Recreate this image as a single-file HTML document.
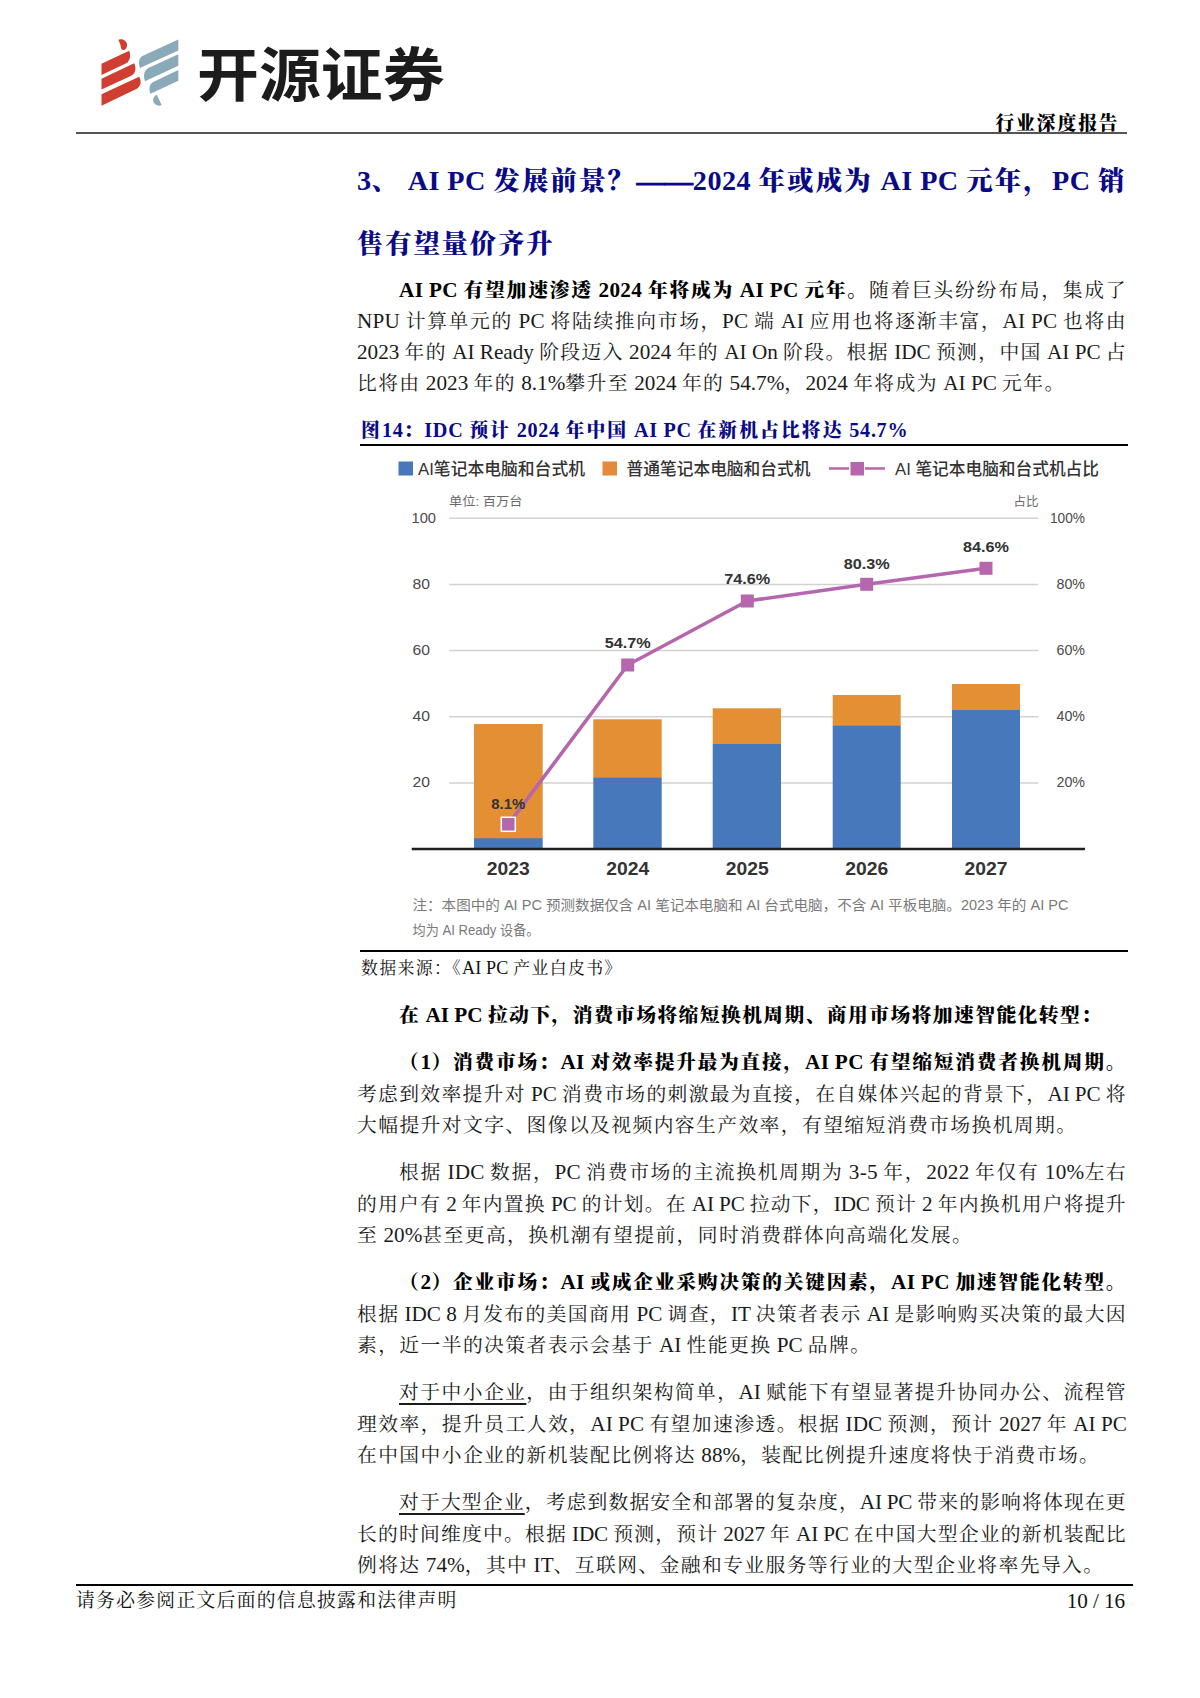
<!DOCTYPE html>
<html lang="zh-CN">
<head>
<meta charset="utf-8">
<title>开源证券 行业深度报告</title>
<style>
html,body{margin:0;padding:0;background:#fff;}
body{width:1200px;height:1698px;position:relative;overflow:hidden;font-family:"Liberation Serif","Noto Serif CJK SC",serif;color:#111;}
.abs{position:absolute;white-space:nowrap;}
.ln{position:absolute;left:357px;width:770px;height:30px;line-height:30px;font-size:19.8px;white-space:nowrap;color:#1a1a1a;}
.ln.i{left:399px;width:728px;}
.ln b{font-weight:900;color:#000;}
.ln{letter-spacing:calc(1.4px + var(--r,0px));}
.ln .l{font-size:21.2px;line-height:0;letter-spacing:var(--r,0px);}
.ttl{letter-spacing:calc(1.8px + var(--r,0px));}
.ttl .d{letter-spacing:0;font-size:28.2px;line-height:0;-webkit-text-stroke:0.8px #0a0a86;}
.ttl .l{font-size:28.2px;line-height:0;letter-spacing:var(--r,0px);}
.ln u{text-decoration:underline;text-underline-offset:4px;text-decoration-thickness:1.5px;}
.ttl{position:absolute;left:357px;width:770px;height:40px;line-height:40px;font-size:26.4px;font-weight:900;color:#0a0a86;white-space:nowrap;}
.hr{position:absolute;background:#000;}
.cap{height:26px;line-height:26px;font-size:18.8px;font-weight:900;letter-spacing:2.09px;color:#0a0a86;}
.cap .l{font-size:20.2px;line-height:0;letter-spacing:0.69px;}
.src{height:24px;line-height:24px;font-size:16.9px;letter-spacing:1.35px;color:#111;}
.src .l{font-size:18.1px;line-height:0;letter-spacing:0.15px;}
.ftl{height:24px;line-height:24px;font-size:18.8px;letter-spacing:1.3px;color:#111;}
svg text{font-family:"Liberation Sans","Noto Sans CJK SC",sans-serif;}
.logo{height:88px;line-height:88px;font-size:60.5px;font-weight:700;font-family:"Liberation Sans","Noto Sans CJK SC",sans-serif;color:#1c1c1c;}
</style>
</head>
<body>
<!-- header -->
<svg class="abs" style="left:95px;top:30px" width="100" height="85" viewBox="0 0 1200 1020">
<g fill="#cf3e31">
<path d="M280,118 C310,100 385,120 385,180 C385,215 365,240 340,240 C320,240 315,225 310,200 C305,170 290,145 280,118 Z"/>
<path d="M78,405 L410,250 C430,300 425,370 375,400 L78,540 Z"/>
<path d="M78,585 L470,400 C495,450 495,520 435,548 L78,715 Z"/>
<path d="M78,770 L530,560 C560,610 555,680 490,710 L78,910 Z"/>
</g>
<g fill="#8baab9">
<path d="M1000,115 L1000,245 L540,455 C520,400 520,340 575,310 Z"/>
<path d="M1000,290 L1000,430 L600,615 C580,560 580,490 640,455 Z"/>
<path d="M1000,480 L1000,610 L665,765 C645,715 645,650 705,620 Z"/>
<path d="M740,775 C760,820 780,860 800,900 C780,915 745,910 715,885 C690,860 690,810 740,775 Z"/>
</g>
</svg>
<div class="abs logo" style="left:196.7px;top:33.9px;transform-origin:0 0;transform:scale(1.0237,0.951);">开源证券</div>
<div class="abs" style="left:990px;top:110.5px;width:129.5px;height:26px;line-height:26px;font-size:18.8px;font-weight:900;letter-spacing:1.9px;color:#000;text-align:right;">行业深度报告</div>
<div class="hr" style="left:76px;top:132px;width:1051px;height:2px;background:#555;"></div>
<div class="ttl" style="top:160.6px;--r:0.439px"><span><span class="l">3</span>、<span class="l"> AI PC </span>发展前景？<span class="d">——</span><span class="l">2024 </span>年或成为<span class="l"> AI PC </span>元年，<span class="l">PC </span>销</span></div>
<div class="ttl" style="top:223.5px">售有望量价齐升</div>
<div class="ln i" style="top:274.67px;--r:0.358px"><span><b><span class="l">AI PC </span>有望加速渗透<span class="l"> 2024 </span>年将成为<span class="l"> AI PC </span>元年。</b>随着巨头纷纷布局，集成了</span></div>
<div class="ln" style="top:305.87px;--r:0.261px"><span><span class="l">NPU </span>计算单元的<span class="l"> PC </span>将陆续推向市场，<span class="l">PC </span>端<span class="l"> AI </span>应用也将逐渐丰富，<span class="l">AI PC </span>也将由</span></div>
<div class="ln" style="top:337.07px;--r:-0.016px"><span><span class="l">2023 </span>年的<span class="l"> AI Ready </span>阶段迈入<span class="l"> 2024 </span>年的<span class="l"> AI On </span>阶段。根据<span class="l"> IDC </span>预测，中国<span class="l"> AI PC </span>占</span></div>
<div class="ln" style="top:368.27px;--r:0.001px"><span>比将由<span class="l"> 2023 </span>年的<span class="l"> 8.1%</span>攀升至<span class="l"> 2024 </span>年的<span class="l"> 54.7%</span>，<span class="l">2024 </span>年将成为<span class="l"> AI PC </span>元年。</span></div>
<div class="ln i" style="top:999.97px;--r:0.005px"><span><b>在<span class="l"> AI PC </span>拉动下，消费市场将缩短换机周期、商用市场将加速智能化转型：</b></span></div>
<div class="ln i" style="top:1047.17px;--r:0.312px"><span><b>（<span class="l">1</span>）消费市场：<span class="l">AI </span>对效率提升最为直接，<span class="l">AI PC </span>有望缩短消费者换机周期。</b></span></div>
<div class="ln" style="top:1078.57px;--r:-0.078px"><span>考虑到效率提升对<span class="l"> PC </span>消费市场的刺激最为直接，在自媒体兴起的背景下，<span class="l">AI PC </span>将</span></div>
<div class="ln" style="top:1109.97px;--r:0.007px"><span>大幅提升对文字、图像以及视频内容生产效率，有望缩短消费市场换机周期。</span></div>
<div class="ln i" style="top:1157.17px;--r:0.236px"><span>根据<span class="l"> IDC </span>数据，<span class="l">PC </span>消费市场的主流换机周期为<span class="l"> 3-5 </span>年，<span class="l">2022 </span>年仅有<span class="l"> 10%</span>左右</span></div>
<div class="ln" style="top:1188.57px;--r:-0.167px"><span>的用户有<span class="l"> 2 </span>年内置换<span class="l"> PC </span>的计划。在<span class="l"> AI PC </span>拉动下，<span class="l">IDC </span>预计<span class="l"> 2 </span>年内换机用户将提升</span></div>
<div class="ln" style="top:1219.97px;--r:0.005px"><span>至<span class="l"> 20%</span>甚至更高，换机潮有望提前，同时消费群体向高端化发展。</span></div>
<div class="ln i" style="top:1267.17px;--r:0.313px"><span><b>（<span class="l">2</span>）企业市场：<span class="l">AI </span>或成企业采购决策的关键因素，<span class="l">AI PC </span>加速智能化转型。</b></span></div>
<div class="ln" style="top:1298.57px;--r:-0.036px"><span>根据<span class="l"> IDC 8 </span>月发布的美国商用<span class="l"> PC </span>调查，<span class="l">IT </span>决策者表示<span class="l"> AI </span>是影响购买决策的最大因</span></div>
<div class="ln" style="top:1329.97px;--r:0.004px"><span>素，近一半的决策者表示会基于<span class="l"> AI </span>性能更换<span class="l"> PC </span>品牌。</span></div>
<div class="ln i" style="top:1377.17px;--r:0.038px"><span><u>对于中小企业</u>，由于组织架构简单，<span class="l">AI </span>赋能下有望显著提升协同办公、流程管</span></div>
<div class="ln" style="top:1408.57px;--r:0.030px"><span>理效率，提升员工人效，<span class="l">AI PC </span>有望加速渗透。根据<span class="l"> IDC </span>预测，预计<span class="l"> 2027 </span>年<span class="l"> AI PC</span></span></div>
<div class="ln" style="top:1439.97px;--r:0.005px"><span>在中国中小企业的新机装配比例将达<span class="l"> 88%</span>，装配比例提升速度将快于消费市场。</span></div>
<div class="ln i" style="top:1487.17px;--r:-0.235px"><span><u>对于大型企业</u>，考虑到数据安全和部署的复杂度，<span class="l">AI PC </span>带来的影响将体现在更</span></div>
<div class="ln" style="top:1518.57px;--r:-0.185px"><span>长的时间维度中。根据<span class="l"> IDC </span>预测，预计<span class="l"> 2027 </span>年<span class="l"> AI PC </span>在中国大型企业的新机装配比</span></div>
<div class="ln" style="top:1549.97px;--r:0.005px"><span>例将达<span class="l"> 74%</span>，其中<span class="l"> IT</span>、互联网、金融和专业服务等行业的大型企业将率先导入。</span></div>
<div class="abs cap" style="left:361px;top:418px;">图<span class="l">14</span>：<span class="l">IDC </span>预计<span class="l"> 2024 </span>年中国<span class="l"> AI PC </span>在新机占比将达<span class="l"> 54.7%</span></div>
<div class="hr" style="left:360px;top:444.2px;width:768px;height:1.6px;"></div>
<div class="hr" style="left:360px;top:950.2px;width:768px;height:1.6px;"></div>
<div class="abs src" style="left:361px;top:956.5px;">数据来源：《<span class="l">AI PC </span>产业白皮书》</div>
<!-- chart -->
<svg class="abs" style="left:360px;top:447px" width="768" height="503" viewBox="360 447 768 503">
<g font-size="16.700" font-weight="500" fill="#333">
<rect x="398.500" y="461.500" width="14.500" height="14" fill="#4678ba"/>
<text x="418" y="475" textLength="167" lengthAdjust="spacingAndGlyphs">AI笔记本电脑和台式机</text>
<rect x="602.500" y="461.500" width="14.500" height="14" fill="#e38b3a"/>
<text x="626.500" y="475" textLength="184" lengthAdjust="spacingAndGlyphs">普通笔记本电脑和台式机</text>
<line x1="829" y1="468.500" x2="885" y2="468.500" stroke="#b566ad" stroke-width="2.500"/>
<rect x="849" y="460.500" width="16" height="16" fill="#fff"/>
<rect x="850.500" y="462" width="13.500" height="13.500" fill="#b566ad"/>
<text x="895" y="475" textLength="204" lengthAdjust="spacingAndGlyphs">AI 笔记本电脑和台式机占比</text>
</g>
<g font-size="12.500" fill="#6a6a6a">
<text x="449" y="505.500" textLength="73.500" lengthAdjust="spacingAndGlyphs">单位: 百万台</text>
<text x="1038.500" y="505.500" text-anchor="end">占比</text>
</g>
<g stroke="#d2d2d6" stroke-width="1.500">
<line x1="449.300" y1="518.300" x2="1038.300" y2="518.300"/>
<line x1="449.300" y1="584.400" x2="1038.300" y2="584.400"/>
<line x1="449.300" y1="650.600" x2="1038.300" y2="650.600"/>
<line x1="449.300" y1="716.700" x2="1038.300" y2="716.700"/>
<line x1="449.300" y1="782.900" x2="1038.300" y2="782.900"/>
</g>
<g font-size="14.500" fill="#4a4a4a">
<text x="411.500" y="522.500" textLength="24.500" lengthAdjust="spacingAndGlyphs">100</text>
<text x="412.500" y="588.600" textLength="17.500" lengthAdjust="spacingAndGlyphs">80</text>
<text x="412.500" y="654.800" textLength="17.500" lengthAdjust="spacingAndGlyphs">60</text>
<text x="412.500" y="720.900" textLength="17.500" lengthAdjust="spacingAndGlyphs">40</text>
<text x="412.500" y="787.100" textLength="17.500" lengthAdjust="spacingAndGlyphs">20</text>
<text x="1050" y="522.500" textLength="35" lengthAdjust="spacingAndGlyphs">100%</text>
<text x="1056.500" y="588.600" textLength="28.500" lengthAdjust="spacingAndGlyphs">80%</text>
<text x="1056.500" y="654.800" textLength="28.500" lengthAdjust="spacingAndGlyphs">60%</text>
<text x="1056.500" y="720.900" textLength="28.500" lengthAdjust="spacingAndGlyphs">40%</text>
<text x="1056.500" y="787.100" textLength="28.500" lengthAdjust="spacingAndGlyphs">20%</text>
</g>
<g fill="#e39035">
<rect x="474" y="724" width="68.700" height="115"/>
<rect x="593.300" y="719.300" width="68.400" height="59"/>
<rect x="712.700" y="708.300" width="68.300" height="36"/>
<rect x="832.700" y="695" width="68" height="31"/>
<rect x="952" y="684" width="68" height="26.500"/>
</g>
<g fill="#4778bb">
<rect x="474" y="838.300" width="68.700" height="10"/>
<rect x="593.300" y="777.700" width="68.400" height="70.600"/>
<rect x="712.700" y="744" width="68.300" height="104.300"/>
<rect x="832.700" y="725.700" width="68" height="122.600"/>
<rect x="952" y="710" width="68" height="138.300"/>
</g>
<line x1="411.700" y1="849" x2="1085" y2="849" stroke="#1f1f1f" stroke-width="2.600"/>
<polyline points="508.300,824.300 627.700,665 747.300,601 866.700,584.300 986,568.300" fill="none" stroke="#b566ad" stroke-width="3.600" stroke-linejoin="round"/>
<g fill="#b566ad">
<rect x="501.300" y="817.300" width="14" height="14" stroke="#fff" stroke-width="1.500"/>
<rect x="621.200" y="658.500" width="13" height="13"/>
<rect x="740.800" y="594.500" width="13" height="13"/>
<rect x="860.200" y="577.800" width="13" height="13"/>
<rect x="979.500" y="561.800" width="13" height="13"/>
</g>
<g font-size="15.500" font-weight="700" fill="#333" text-anchor="middle">
<text x="508.300" y="808.500" textLength="34" lengthAdjust="spacingAndGlyphs">8.1%</text>
<text x="627.700" y="648" textLength="46" lengthAdjust="spacingAndGlyphs">54.7%</text>
<text x="747.300" y="583.500" textLength="46" lengthAdjust="spacingAndGlyphs">74.6%</text>
<text x="866.700" y="568.500" textLength="46" lengthAdjust="spacingAndGlyphs">80.3%</text>
<text x="986" y="552" textLength="46" lengthAdjust="spacingAndGlyphs">84.6%</text>
</g>
<g font-size="19" font-weight="700" fill="#333" text-anchor="middle">
<text x="508.300" y="875" textLength="43" lengthAdjust="spacingAndGlyphs">2023</text>
<text x="627.700" y="875" textLength="43" lengthAdjust="spacingAndGlyphs">2024</text>
<text x="747.300" y="875" textLength="43" lengthAdjust="spacingAndGlyphs">2025</text>
<text x="866.700" y="875" textLength="43" lengthAdjust="spacingAndGlyphs">2026</text>
<text x="986" y="875" textLength="43" lengthAdjust="spacingAndGlyphs">2027</text>
</g>
<g font-size="14" fill="#7a7a7a">
<text x="412.500" y="910.200" textLength="656" lengthAdjust="spacingAndGlyphs">注：本图中的 AI PC 预测数据仅含 AI 笔记本电脑和 AI 台式电脑，不含 AI 平板电脑。2023 年的 AI PC</text>
<text x="412.500" y="934.900" textLength="127" lengthAdjust="spacingAndGlyphs">均为 AI Ready 设备。</text>
</g>
</svg>

<div class="hr" style="left:76px;top:1584px;width:1057px;height:1.5px;"></div>
<div class="abs ftl" style="left:76px;top:1589px;">请务必参阅正文后面的信息披露和法律声明</div>
<div class="abs" style="left:1025px;width:100px;text-align:right;top:1585.5px;height:30px;line-height:30px;font-size:21.200px;letter-spacing:-0.1px;color:#111;">10 / 16</div>
</body>
</html>
